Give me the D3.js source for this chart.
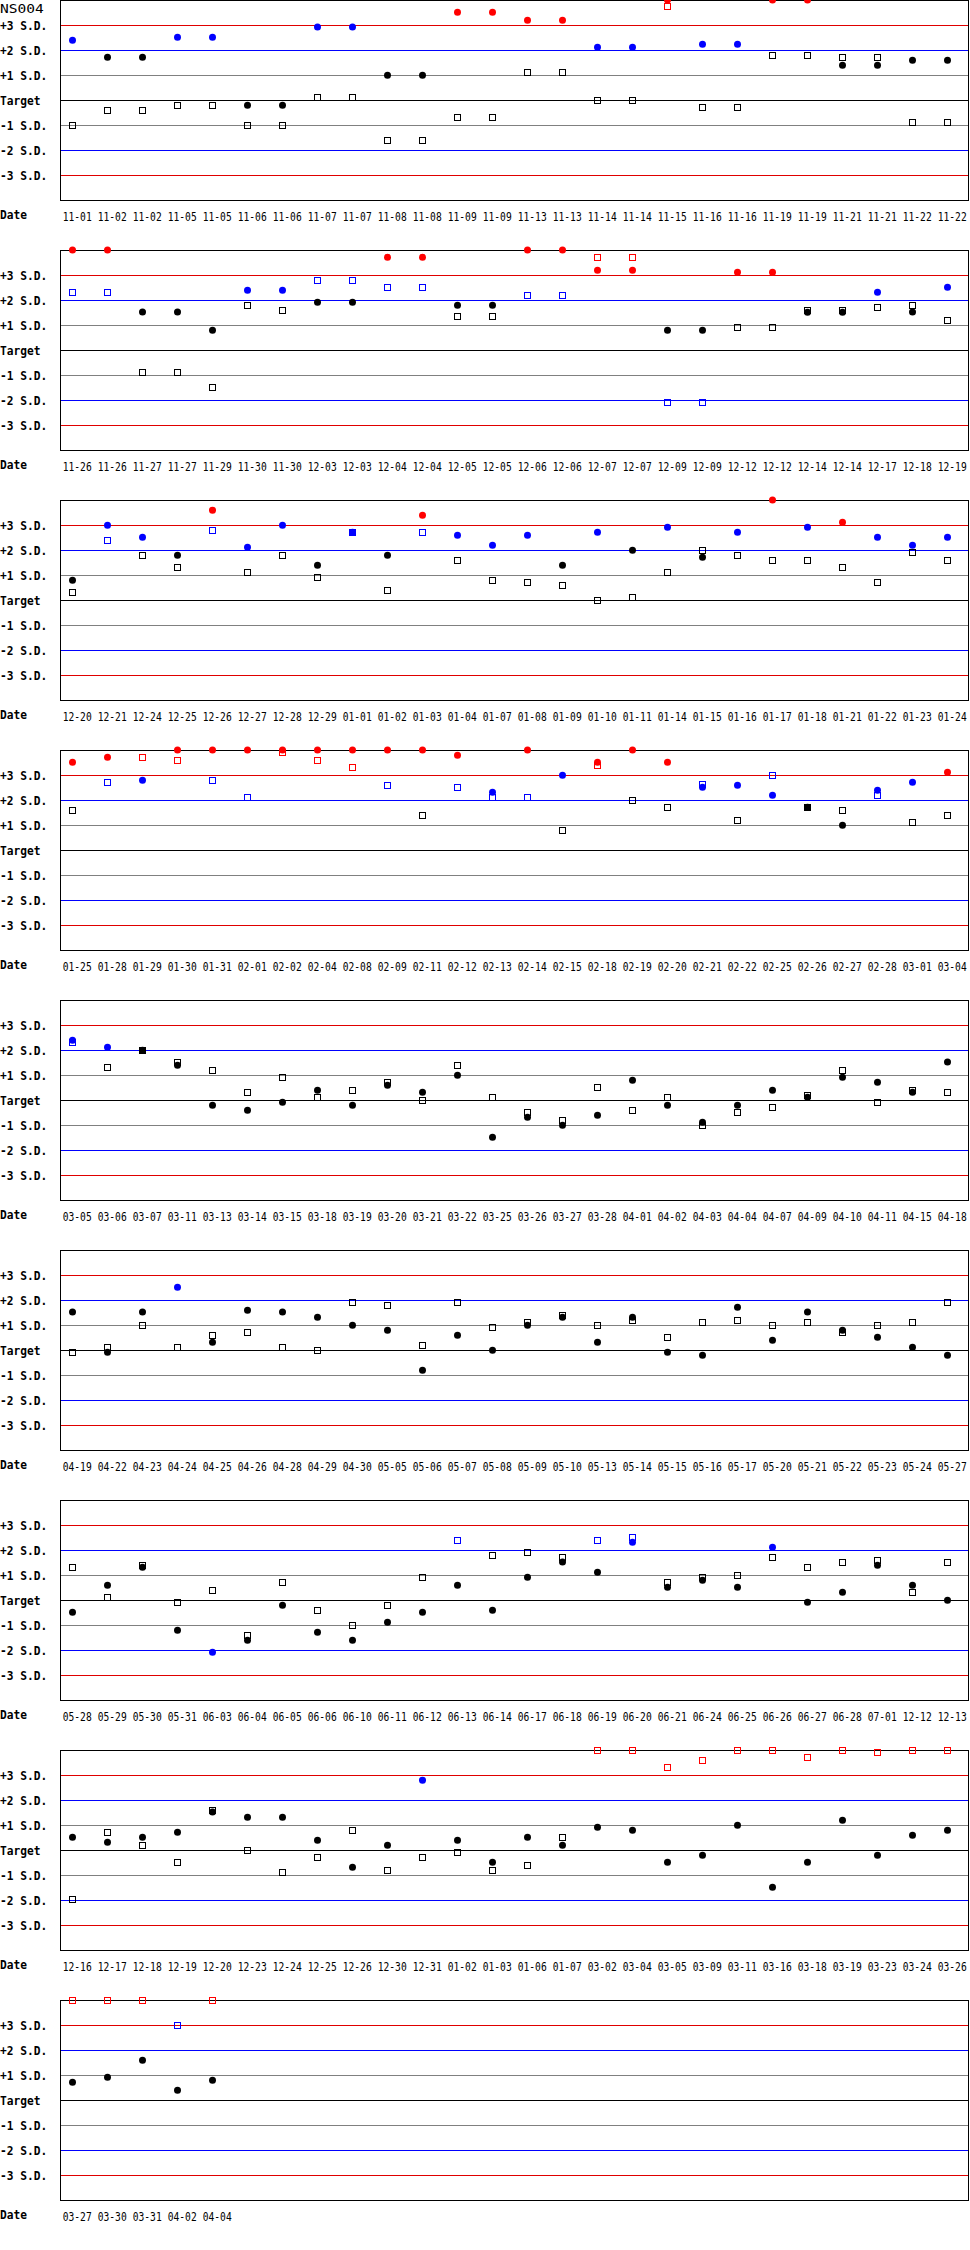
<!DOCTYPE html>
<html>
<head>
<meta charset="utf-8">
<script src="https://cdn.jsdelivr.net/npm/d3@7"></script>
<style>
  html, body { margin: 0; padding: 0; background: #fff; }
  svg { display: block; }
</style>
</head>
<body>
<div id="chart"></div>
<script>
// ---------- DATA ----------
const title = "NS004";
const sdTicks = [3, 2, 1, 0, -1, -2, -3];
const sdLabels = ["+3 S.D.", "+2 S.D.", "+1 S.D.", "Target", "-1 S.D.", "-2 S.D.", "-3 S.D."];
const sdLineColors = ["#e00000", "#0000ff", "#808080", "#000000", "#808080", "#0000ff", "#e00000"];

const dates = [
  "11-01","11-02","11-02","11-05","11-05","11-06","11-06","11-07","11-07","11-08","11-08","11-09","11-09","11-13","11-13","11-14","11-14","11-15","11-16","11-16","11-19","11-19","11-21","11-21","11-22","11-22",
  "11-26","11-26","11-27","11-27","11-29","11-30","11-30","12-03","12-03","12-04","12-04","12-05","12-05","12-06","12-06","12-07","12-07","12-09","12-09","12-12","12-12","12-14","12-14","12-17","12-18","12-19",
  "12-20","12-21","12-24","12-25","12-26","12-27","12-28","12-29","01-01","01-02","01-03","01-04","01-07","01-08","01-09","01-10","01-11","01-14","01-15","01-16","01-17","01-18","01-21","01-22","01-23","01-24",
  "01-25","01-28","01-29","01-30","01-31","02-01","02-02","02-04","02-08","02-09","02-11","02-12","02-13","02-14","02-15","02-18","02-19","02-20","02-21","02-22","02-25","02-26","02-27","02-28","03-01","03-04",
  "03-05","03-06","03-07","03-11","03-13","03-14","03-15","03-18","03-19","03-20","03-21","03-22","03-25","03-26","03-27","03-28","04-01","04-02","04-03","04-04","04-07","04-09","04-10","04-11","04-15","04-18",
  "04-19","04-22","04-23","04-24","04-25","04-26","04-28","04-29","04-30","05-05","05-06","05-07","05-08","05-09","05-10","05-13","05-14","05-15","05-16","05-17","05-20","05-21","05-22","05-23","05-24","05-27",
  "05-28","05-29","05-30","05-31","06-03","06-04","06-05","06-06","06-10","06-11","06-12","06-13","06-14","06-17","06-18","06-19","06-20","06-21","06-24","06-25","06-26","06-27","06-28","07-01","12-12","12-13",
  "12-16","12-17","12-18","12-19","12-20","12-23","12-24","12-25","12-26","12-30","12-31","01-02","01-03","01-06","01-07","03-02","03-04","03-05","03-09","03-11","03-16","03-18","03-19","03-23","03-24","03-26",
  "03-27","03-30","03-31","04-02","04-04"
];

// Level 1 (filled circles), in S.D. units from target (values above +4 are shown at the top edge)
const circleValues = [
  2.39,1.71,1.71,2.51,2.51,-0.21,-0.21,2.92,2.92,0.99,0.99,3.51,3.51,3.19,3.19,2.11,2.11,4,2.23,2.23,4,4,1.39,1.39,1.59,1.59,
  4,4,1.52,1.52,0.79,2.39,2.39,1.91,1.91,3.71,3.71,1.79,1.79,4,4,3.19,3.19,0.79,0.79,3.11,3.11,1.51,1.51,2.31,1.52,2.51,
  0.79,2.99,2.51,1.79,3.59,2.11,2.99,1.39,2.71,1.79,3.39,2.59,2.19,2.59,1.39,2.71,1.99,2.91,1.71,2.71,4,2.91,3.11,2.51,2.19,2.51,
  3.51,3.71,2.79,4,4,4,4,4,4,4,4,3.79,2.31,4,2.99,3.51,4,3.51,2.51,2.59,2.19,1.71,0.99,2.39,2.71,3.11,
  2.39,2.11,1.99,1.39,-0.21,-0.41,-0.09,0.39,-0.21,0.59,0.31,0.99,-1.49,-0.69,-1.01,-0.61,0.79,-0.21,-0.89,-0.21,0.39,0.11,0.91,0.71,0.31,1.52,
  1.52,-0.09,1.52,2.51,0.31,1.59,1.52,1.31,0.99,0.79,-0.81,0.59,-0.01,0.99,1.31,0.31,1.31,-0.09,-0.21,1.71,0.39,1.52,0.79,0.51,0.11,-0.21,
  -0.49,0.59,1.31,-1.21,-2.09,-1.61,-0.21,-1.29,-1.61,-0.89,-0.49,0.59,-0.41,0.91,1.52,1.11,2.31,0.51,0.79,0.51,2.11,-0.09,0.31,1.39,0.59,-0.01,
  0.51,0.31,0.51,0.71,1.52,1.31,1.31,0.39,-0.69,0.19,2.79,0.39,-0.49,0.51,0.19,0.91,0.79,-0.49,-0.21,0.99,-1.49,-0.49,1.19,-0.21,0.59,0.79,
  0.71,0.91,1.59,0.39,0.79
];

// Level 2 (open squares)
const squareValues = [
  -1.01,-0.41,-0.41,-0.21,-0.21,-1.01,-1.01,0.11,0.11,-1.61,-1.61,-0.69,-0.69,1.12,1.12,0,0,3.72,-0.29,-0.29,1.79,1.79,1.71,1.71,-0.89,-0.89,
  2.31,2.31,-0.89,-0.89,-1.49,1.79,1.59,2.79,2.79,2.51,2.51,1.35,1.35,2.19,2.19,3.71,3.71,-2.09,-2.09,0.91,0.91,1.59,1.59,1.71,1.79,1.19,
  0.31,2.39,1.79,1.31,2.79,1.11,1.79,0.91,2.71,0.39,2.71,1.59,0.79,0.71,0.59,0,0.11,1.11,1.99,1.79,1.59,1.59,1.31,0.71,1.91,1.59,
  1.59,2.71,3.71,3.59,2.79,2.11,3.91,3.59,3.31,2.59,1.39,2.51,2.11,2.11,0.79,3.39,1.99,1.71,2.63,1.19,2.99,1.71,1.59,2.19,1.11,1.39,
  2.31,1.31,1.99,1.52,1.19,0.31,0.91,0.11,0.39,0.71,-0.01,1.39,0.11,-0.49,-0.81,0.51,-0.41,0.11,-1.01,-0.49,-0.29,0.19,1.19,-0.09,0.39,0.31,
  -0.09,0.11,0.99,0.11,0.59,0.71,0.11,-0.01,1.91,1.79,0.19,1.91,0.91,1.11,1.39,0.99,1.19,0.51,1.11,1.19,0.99,1.11,0.71,0.99,1.11,1.91,
  1.31,0.11,1.39,-0.09,0.39,-1.41,0.71,-0.41,-1.01,-0.21,0.91,2.39,1.79,1.91,1.71,2.39,2.51,0.71,0.91,0.99,1.71,1.31,1.52,1.59,0.31,1.52,
  -1.99,0.71,0.19,-0.49,1.59,-0.01,-0.89,-0.29,0.79,-0.81,-0.29,-0.09,-0.81,-0.61,0.51,4,4,3.31,3.59,4,4,3.71,4,3.91,4,4,
  4,4,4,2.99,4
];

const pointsPerPanel = 26;

// ---------- LAYOUT ----------
const W = 970, H = 2250;
const panelH = 250, plotH = 200;
const plotLeft = 60, plotRight = 968;
const font = "'DejaVu Sans Mono', 'Liberation Mono', monospace";

const svg = d3.select("#chart").append("svg")
  .attr("width", W).attr("height", H)
  .attr("viewBox", `0 0 ${W} ${H}`)
  .style("background", "#fff");

const x = d3.scalePoint().domain(d3.range(pointsPerPanel)).range([72.5, 947.5]);
const y = d3.scaleLinear().domain([-4, 4]).range([plotH, 0]).clamp(true);
const colorOf = d3.scaleThreshold().domain([2, 3]).range(["#000000", "#0000ff", "#ff0000"]);

const nPanels = Math.ceil(dates.length / pointsPerPanel);

for (let p = 0; p < nPanels; p++) {
  const start = p * pointsPerPanel;
  const idx = d3.range(start, Math.min(start + pointsPerPanel, dates.length));
  const g = svg.append("g").attr("transform", `translate(0,${p * panelH})`);

  // reference lines
  g.selectAll("line.sd").data(sdTicks).join("line")
    .attr("class", "sd")
    .attr("x1", plotLeft).attr("x2", plotRight)
    .attr("y1", d => Math.floor(y(d)) + 0.5).attr("y2", d => Math.floor(y(d)) + 0.5)
    .attr("stroke", (d, i) => sdLineColors[i]).attr("stroke-width", 1)
    .attr("shape-rendering", "crispEdges");

  // frame
  g.append("rect")
    .attr("x", plotLeft + 0.5).attr("y", 0.5)
    .attr("width", plotRight - plotLeft).attr("height", plotH)
    .attr("fill", "none").attr("stroke", "#000").attr("stroke-width", 1)
    .attr("shape-rendering", "crispEdges");

  // left axis labels
  const yAxis = g.append("g").attr("transform", "translate(0,0)")
    .call(d3.axisLeft(y).tickValues(sdTicks).tickSize(0)
      .tickFormat(d => sdLabels[sdTicks.indexOf(d)]));
  yAxis.select(".domain").remove();
  yAxis.selectAll("text")
    .attr("x", 0).attr("dy", "0.37em")
    .attr("text-anchor", "start")
    .attr("font-family", font).attr("font-size", 12).attr("font-weight", "bold")
    .attr("fill", "#000")
    .attr("transform", "scale(0.935,1)");

  // bottom axis (dates)
  const xAxis = g.append("g").attr("transform", `translate(0,${plotH})`)
    .call(d3.axisBottom(x).tickValues(idx.map(i => i - start)).tickSize(0)
      .tickFormat(i => dates[start + i]));
  xAxis.select(".domain").remove();
  xAxis.selectAll("text")
    .attr("x", 0).attr("y", 21.5).attr("dy", 0)
    .attr("text-anchor", "start")
    .attr("font-family", font).attr("font-size", 12)
    .attr("fill", "#000")
    .attr("transform", "translate(-10.3,0) scale(0.803,1)");

  g.append("text")
    .attr("x", 0).attr("y", 219)
    .attr("font-family", font).attr("font-size", 12).attr("font-weight", "bold")
    .attr("transform", "scale(0.935,1)")
    .text("Date");

  // level 1 circles
  g.selectAll("circle.l1").data(idx).join("circle")
    .attr("class", "l1")
    .attr("cx", i => x(i - start))
    .attr("cy", i => y(circleValues[i]))
    .attr("r", 3.5)
    .attr("fill", i => colorOf(Math.abs(circleValues[i])));

  // level 2 squares
  g.selectAll("rect.l2").data(idx).join("rect")
    .attr("class", "l2")
    .attr("x", i => x(i - start) - 3)
    .attr("y", i => Math.floor(y(squareValues[i])) + 0.5 - 3)
    .attr("width", 6).attr("height", 6)
    .attr("fill", "none")
    .attr("stroke", i => colorOf(Math.abs(squareValues[i])))
    .attr("stroke-width", 1)
    .attr("shape-rendering", "crispEdges");
}

// title
svg.append("text")
  .attr("x", 0).attr("y", 12.7)
  .attr("font-family", font).attr("font-size", 13)
  .attr("transform", "scale(1.12,1)")
  .attr("fill", "#000")
  .text(title);
</script>
</body>
</html>
